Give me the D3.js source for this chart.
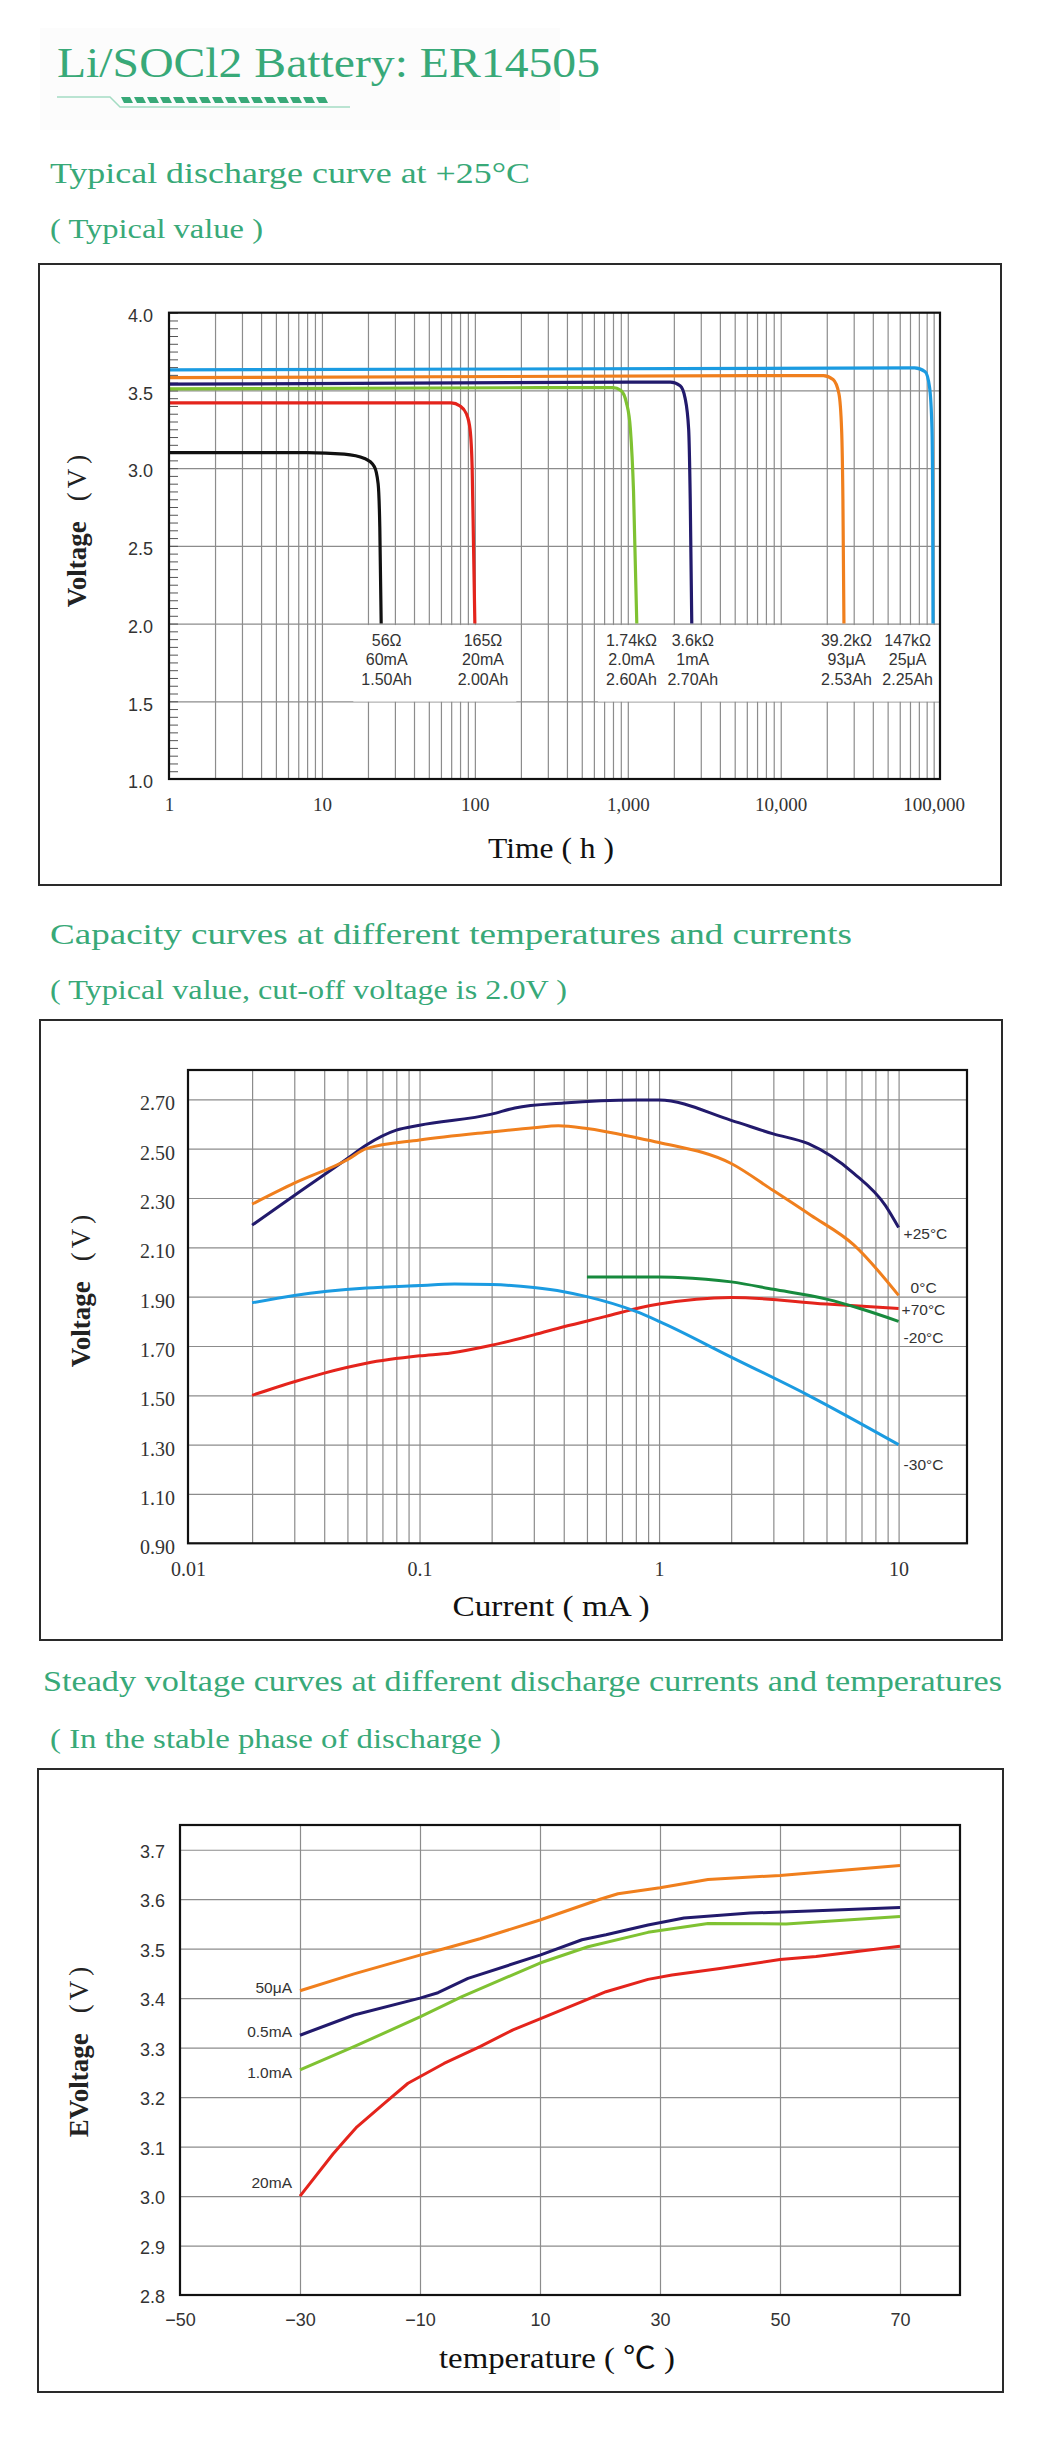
<!DOCTYPE html>
<html>
<head>
<meta charset="utf-8">
<script src="https://cdn.jsdelivr.net/npm/d3@7"></script>
<style>
  body { margin: 0; background: #fff; }
  svg { display: block; }
</style>
</head>
<body>
<svg id="page" width="1040" height="2441"></svg>
<script>
// ---- data ----
const pageTitle = 'Li/SOCl2 Battery: ER14505';
const sectionTitles = [
  'Typical discharge curve at +25°C',
  'Capacity curves at different temperatures and currents',
  'Steady voltage curves at different discharge currents and temperatures',
];
const sectionNotes = [
  '( Typical value )',
  '( Typical value, cut-off voltage is 2.0V )',
  '( In the stable phase of discharge )',
];

// chart 1 : discharge at +25°C, [hours, volts]
const loadNames = ['56Ω', '165Ω', '1.74kΩ', '3.6kΩ', '39.2kΩ', '147kΩ'];
const loadCurrents = ['60mA', '20mA', '2.0mA', '1mA', '93μA', '25μA'];
const loadCapacity = ['1.50Ah', '2.00Ah', '2.60Ah', '2.70Ah', '2.53Ah', '2.25Ah'];
const loadLabelAt = [26.5, 113, 1057, 2660, 26900, 67600];
const loadGroup = [0, 0, 1, 1, 1, 1];
const dischargeCurves = [
  [[1, 3.10], [8, 3.10], [14, 3.09], [19, 3.062], [22, 3.01], [23.3, 2.9], [23.9, 2.62], [24.4, 2.0]],
  [[1, 3.42], [70, 3.42], [80, 3.40], [88, 3.35], [93, 3.25], [96, 3.0], [98, 2.5], [100, 2.0]],
  [[1, 3.51], [800, 3.518], [900, 3.50], [980, 3.42], [1040, 3.25], [1090, 2.85], [1145, 2.0]],
  [[1, 3.54], [1900, 3.553], [2200, 3.53], [2370, 3.45], [2500, 3.25], [2560, 2.8], [2620, 2.0]],
  [[1, 3.582], [19000, 3.595], [22000, 3.57], [24000, 3.48], [25000, 3.25], [25500, 2.8], [25900, 2.0]],
  [[1, 3.632], [75000, 3.645], [88000, 3.62], [94000, 3.52], [97500, 3.25], [98500, 2.8], [99000, 2.0]],
];
const timeTicks = [1, 10, 100, 1000, 10000, 100000];
const timeTickLabels = ['1', '10', '100', '1,000', '10,000', '100,000'];
const volt1Ticks = [1.0, 1.5, 2.0, 2.5, 3.0, 3.5, 4.0];

// chart 2 : voltage vs current, [mA, volts]
const tempNames = ['+25°C', '0°C', '+70°C', '-20°C', '-30°C'];
const capacityCurves = [
  [[0.02, 2.19], [0.03, 2.31], [0.05, 2.46], [0.06, 2.515], [0.08, 2.575], [0.1, 2.595], [0.2, 2.64],
   [0.25, 2.665], [0.4, 2.685], [0.8, 2.697], [1, 2.697], [2, 2.615], [3, 2.56], [4.2, 2.52],
   [6.5, 2.40], [8.8, 2.27], [10, 2.18]],
  [[0.02, 2.275], [0.03, 2.36], [0.05, 2.455], [0.06, 2.50], [0.1, 2.535], [0.2, 2.568], [0.3, 2.585],
   [0.38, 2.593], [0.5, 2.582], [0.8, 2.545], [1, 2.525], [2, 2.44], [3, 2.33], [4.3, 2.23],
   [6.5, 2.11], [10, 1.905]],
  [[0.02, 1.50], [0.03, 1.555], [0.04, 1.59], [0.06, 1.63], [0.1, 1.66], [0.135, 1.672], [0.2, 1.703],
   [0.3, 1.745], [0.4, 1.778], [0.6, 1.82], [0.85, 1.857], [1, 1.87], [2, 1.897], [5, 1.87], [10, 1.852]],
  [[0.5, 1.98], [1, 1.98], [1.2, 1.978], [2, 1.96], [3, 1.93], [5, 1.89], [7, 1.85], [10, 1.80]],
  [[0.02, 1.875], [0.03, 1.905], [0.06, 1.935], [0.1, 1.945], [0.14, 1.951], [0.2, 1.949], [0.3, 1.937],
   [0.4, 1.92], [0.5, 1.90], [0.8, 1.84], [1, 1.80], [2, 1.655], [4.2, 1.50], [10, 1.30]],
];
const currentTicks = [0.01, 0.1, 1, 10];
const currentTickLabels = ['0.01', '0.1', '1', '10'];
const volt2Ticks = [0.9, 1.1, 1.3, 1.5, 1.7, 1.9, 2.1, 2.3, 2.5, 2.7];

// chart 3 : steady voltage vs temperature, [°C, volts]
const currentNames = ['50μA', '0.5mA', '1.0mA', '20mA'];
const steadyCurves = [
  [[-30, 3.415], [-21, 3.449], [-10, 3.487], [-6, 3.50], [0, 3.52], [10, 3.558], [20, 3.60], [23, 3.611],
   [30, 3.623], [38, 3.64], [50, 3.648], [70, 3.668]],
  [[-30, 3.325], [-21, 3.366], [-10, 3.40], [-7, 3.411], [-2, 3.44], [10, 3.487], [17, 3.518], [21, 3.528],
   [28, 3.548], [34, 3.562], [45, 3.572], [55, 3.576], [70, 3.583]],
  [[-30, 3.255], [-21, 3.302], [-10, 3.362], [-3, 3.403], [10, 3.471], [18, 3.504], [28, 3.533],
   [38, 3.551], [51, 3.55], [70, 3.565]],
  [[-30, 3.0], [-24.5, 3.085], [-22.5, 3.113], [-20.5, 3.14], [-16, 3.187], [-12, 3.228], [-6, 3.268],
   [0, 3.302], [5.5, 3.336], [10, 3.358], [17, 3.393], [21, 3.413], [28, 3.438], [32, 3.447], [40, 3.46],
   [50, 3.478], [56, 3.484], [70, 3.505]],
];
const tempTicks = [-50, -30, -10, 10, 30, 50, 70];
const volt3Ticks = [2.8, 2.9, 3.0, 3.1, 3.2, 3.3, 3.4, 3.5, 3.6, 3.7];

// ---- styles ----
const GREEN = '#38a978';
const SERIF = '"Liberation Serif", "Noto Sans CJK SC", serif';
const SANS = '"Liberation Sans", Arial, sans-serif';
const GRID = '#8c8c8c';
const INK = '#333';
const C = { black: '#111', red: '#e4241c', lime: '#7fc232', navy: '#221a6c', orange: '#f07f1d',
            blue: '#1b9be1', dkgreen: '#178a3d' };
const loadColors = [C.black, C.red, C.lime, C.navy, C.orange, C.blue];
const tempColors = [C.navy, C.orange, C.red, C.dkgreen, C.blue];
const currentColors = [C.orange, C.navy, C.lime, C.red];

const svg = d3.select('#page');

// ---- header ----
svg.append('rect').attr('x', 40).attr('y', 28).attr('width', 520).attr('height', 102).attr('fill', '#fcfcfc');

function greenText(txt, x, y, size, len) {
  svg.append('text')
    .attr('x', x).attr('y', y)
    .attr('font-family', SERIF).attr('font-size', size)
    .attr('fill', GREEN)
    .attr('textLength', len).attr('lengthAdjust', 'spacingAndGlyphs')
    .text(txt);
}

greenText(pageTitle, 57, 77, 42, 543);
svg.append('path').attr('d', 'M57,97H110L120,107H350')
  .attr('fill', 'none').attr('stroke', '#a4dcc3').attr('stroke-width', 1.5);
svg.append('g').selectAll('path')
  .data(d3.range(16))
  .join('path')
  .attr('d', i => { const x = 121 + i * 13; return `M${x},97h9l3,6h-9z`; })
  .attr('fill', GREEN);

greenText(sectionTitles[0], 50, 183, 30, 480);
greenText(sectionNotes[0], 50, 238, 28, 213);
greenText(sectionTitles[1], 50, 944, 30, 802);
greenText(sectionNotes[1], 50, 999, 28, 517);
greenText(sectionTitles[2], 43, 1691, 30, 959);
greenText(sectionNotes[2], 50, 1748, 28, 451);

function box(x, y, w, h) {
  svg.append('rect').attr('x', x).attr('y', y).attr('width', w).attr('height', h)
    .attr('fill', 'none').attr('stroke', '#2a2a2a').attr('stroke-width', 2);
}

function styleGrid(g) {
  g.select('.domain').remove();
  g.selectAll('line').attr('stroke', GRID).attr('stroke-width', 1.2);
}

// rotated "Voltage (V)" title, optional stray prefix glyph
function yTitle(prefix, x, y) {
  const t = svg.append('text')
    .attr('transform', `translate(${x},${y}) rotate(-90)`)
    .attr('text-anchor', 'middle')
    .attr('font-family', SERIF).attr('font-size', 27)
    .attr('fill', '#222');
  if (prefix) t.append('tspan').attr('font-weight', 'bold').attr('dx', 0).text(prefix);
  t.append('tspan').attr('font-weight', 'bold').text('Voltage');
  t.append('tspan').attr('dx', 20).text('(');
  t.append('tspan').attr('dx', 4).text('V');
  t.append('tspan').attr('dx', 5).text(')');
}

function xTitle(txt, x, y, len) {
  svg.append('text')
    .attr('x', x).attr('y', y)
    .attr('text-anchor', 'middle')
    .attr('font-family', SERIF).attr('font-size', 30)
    .attr('fill', '#111')
    .attr('textLength', len).attr('lengthAdjust', 'spacingAndGlyphs')
    .text(txt);
}

function frame(p) {
  svg.append('rect').attr('x', p.left).attr('y', p.top)
    .attr('width', p.right - p.left).attr('height', p.bottom - p.top)
    .attr('fill', 'none').attr('stroke', '#111').attr('stroke-width', 2.2);
}

// ---- chart 1 ----
box(39, 264, 962, 621);
const p1 = { left: 169, right: 940, top: 312.7, bottom: 779 };
const x1 = d3.scaleLog().domain([1, 110000]).range([p1.left, p1.right]);
const y1 = d3.scaleLinear().domain([1, 4]).range([p1.bottom, p1.top]);
const g1 = svg.append('g');

g1.append('g').attr('transform', `translate(0,${p1.bottom})`)
  .call(d3.axisBottom(x1).tickValues(x1.ticks().filter(t => t > 1))
    .tickSize(-(p1.bottom - p1.top)).tickFormat(''))
  .call(styleGrid);
g1.append('g').attr('transform', `translate(${p1.left},0)`)
  .call(d3.axisLeft(y1).tickValues(volt1Ticks.slice(1, -1))
    .tickSize(-(p1.right - p1.left)).tickFormat(''))
  .call(styleGrid);

// white label plates + labels
const plates = g1.append('g');
const lbl1 = g1.append('g')
  .attr('font-family', SANS).attr('font-size', 16).attr('fill', INK).attr('text-anchor', 'middle');
loadNames.forEach((name, i) => {
  const t = lbl1.append('text').attr('class', `grp${loadGroup[i]}`)
    .attr('x', x1(loadLabelAt[i])).attr('y', y1(2.0) + 22);
  [name, loadCurrents[i], loadCapacity[i]].forEach((s, k) => {
    t.append('tspan').attr('x', x1(loadLabelAt[i])).attr('dy', k === 0 ? 0 : 19.5).text(s);
  });
});
d3.groups(loadGroup.map((grp, i) => ({ grp, i })), d => d.grp).forEach(([grp]) => {
  const boxes = lbl1.selectAll(`.grp${grp}`).nodes().map(n => n.getBBox());
  const x0 = d3.min(boxes, b => b.x) - 8;
  const xMax = Math.min(d3.max(boxes, b => b.x + b.width) + 8, p1.right - 1);
  const yMax = d3.max(boxes, b => b.y + b.height) + 14;
  plates.append('rect')
    .attr('x', x0).attr('y', y1(2.0) + 1.5)
    .attr('width', xMax - x0).attr('height', yMax - y1(2.0) - 1.5)
    .attr('fill', '#fff');
});

g1.append('g').attr('transform', `translate(${p1.left},0)`)
  .call(d3.axisLeft(y1).tickValues(d3.range(20, 81).map(i => i * 0.05)).tickSizeInner(-9).tickSizeOuter(0).tickFormat(''))
  .call(g => g.select('.domain').remove())
  .call(g => g.selectAll('line').attr('stroke', '#555').attr('stroke-width', 1));

const line1 = d3.line().x(d => x1(d[0])).y(d => y1(d[1])).curve(d3.curveMonotoneX);
g1.append('g').selectAll('path')
  .data(dischargeCurves)
  .join('path')
  .attr('d', line1)
  .attr('fill', 'none')
  .attr('stroke', (d, i) => loadColors[i])
  .attr('stroke-width', 3.2);

frame(p1);

g1.append('g').attr('transform', `translate(${p1.left},0)`)
  .call(d3.axisLeft(y1).tickValues(volt1Ticks).tickSize(0).tickPadding(16).tickFormat(d3.format('.1f')))
  .call(g => g.select('.domain').remove())
  .call(g => g.selectAll('text').attr('font-family', SANS).attr('font-size', 18).attr('fill', INK)
    .attr('transform', 'translate(0,3)'));
g1.append('g').attr('transform', `translate(0,${p1.bottom})`)
  .call(d3.axisBottom(x1).tickValues(timeTicks).tickSize(0).tickPadding(19)
    .tickFormat((d, i) => timeTickLabels[i]))
  .call(g => g.select('.domain').remove())
  .call(g => g.selectAll('text').attr('font-family', SERIF).attr('font-size', 19).attr('fill', INK));

yTitle('', 86, 531);
xTitle('Time ( h )', 551, 858, 126);

// ---- chart 2 ----
box(40, 1020, 962, 620);
const p2 = { left: 188, right: 967, top: 1070, bottom: 1543.3 };
const x2 = d3.scaleLog().domain([0.0108, 19.3]).range([p2.left, p2.right]);
const y2 = d3.scaleLinear().domain([0.9, 2.819]).range([p2.bottom, p2.top]);
const g2 = svg.append('g');

g2.append('g').attr('transform', `translate(0,${p2.bottom})`)
  .call(d3.axisBottom(x2).tickValues(x2.ticks().filter(t => t > 0.011 && t <= 10.01))
    .tickSize(-(p2.bottom - p2.top)).tickFormat(''))
  .call(styleGrid);
g2.append('g').attr('transform', `translate(${p2.left},0)`)
  .call(d3.axisLeft(y2).tickValues(volt2Ticks.slice(1))
    .tickSize(-(p2.right - p2.left)).tickFormat(''))
  .call(styleGrid);

const line2 = d3.line().x(d => x2(d[0])).y(d => y2(d[1])).curve(d3.curveMonotoneX);
g2.append('g').selectAll('path')
  .data(capacityCurves)
  .join('path')
  .attr('d', line2)
  .attr('fill', 'none')
  .attr('stroke', (d, i) => tempColors[i])
  .attr('stroke-width', 3);

// end-of-curve labels (small nudges so they do not collide)
const tempNudge = [[5, 6], [12, -8], [3, 1], [5, 16], [5, 20]];
g2.append('g').selectAll('text')
  .data(capacityCurves)
  .join('text')
  .attr('x', (d, i) => x2(d[d.length - 1][0]) + tempNudge[i][0])
  .attr('y', (d, i) => y2(d[d.length - 1][1]) + tempNudge[i][1] + 5.5)
  .attr('font-family', SANS).attr('font-size', 15.5).attr('fill', INK)
  .text((d, i) => tempNames[i]);

frame(p2);

g2.append('g').attr('transform', `translate(${p2.left},0)`)
  .call(d3.axisLeft(y2).tickValues(volt2Ticks).tickSize(0).tickPadding(13).tickFormat(d3.format('.2f')))
  .call(g => g.select('.domain').remove())
  .call(g => g.selectAll('text').attr('font-family', SERIF).attr('font-size', 20).attr('fill', INK)
    .attr('transform', 'translate(0,4)'));
g2.append('g').attr('transform', `translate(0,${p2.bottom})`)
  .call(d3.axisBottom(x2.copy().clamp(true)).tickValues(currentTicks).tickSize(0).tickPadding(19)
    .tickFormat((d, i) => currentTickLabels[i]))
  .call(g => g.select('.domain').remove())
  .call(g => g.selectAll('text').attr('font-family', SERIF).attr('font-size', 20).attr('fill', INK));

yTitle('', 90, 1291);
xTitle('Current ( mA )', 551, 1616, 197);

// ---- chart 3 ----
box(38, 1769, 965, 623);
const p3 = { left: 180, right: 960, top: 1825, bottom: 2295 };
const x3 = d3.scaleLinear().domain([-50, 80]).range([p3.left, p3.right]);
const y3 = d3.scaleLinear().domain([2.8, 3.75]).range([p3.bottom, p3.top]);
const g3 = svg.append('g');

g3.append('g').attr('transform', `translate(0,${p3.bottom})`)
  .call(d3.axisBottom(x3).tickValues(tempTicks.slice(1))
    .tickSize(-(p3.bottom - p3.top)).tickFormat(''))
  .call(styleGrid);
g3.append('g').attr('transform', `translate(${p3.left},0)`)
  .call(d3.axisLeft(y3).tickValues(volt3Ticks.slice(1))
    .tickSize(-(p3.right - p3.left)).tickFormat(''))
  .call(styleGrid);

const line3 = d3.line().x(d => x3(d[0])).y(d => y3(d[1]));
g3.append('g').selectAll('path')
  .data(steadyCurves)
  .join('path')
  .attr('d', line3)
  .attr('fill', 'none')
  .attr('stroke', (d, i) => currentColors[i])
  .attr('stroke-width', 3)
  .attr('stroke-linejoin', 'round');

const currentNudge = [-3, -4, 3, -14];
g3.append('g').selectAll('text')
  .data(steadyCurves)
  .join('text')
  .attr('x', d => x3(d[0][0]) - 8)
  .attr('y', (d, i) => y3(d[0][1]) + currentNudge[i] + 5.5)
  .attr('text-anchor', 'end')
  .attr('font-family', SANS).attr('font-size', 15.5).attr('fill', INK)
  .text((d, i) => currentNames[i]);

frame(p3);

g3.append('g').attr('transform', `translate(${p3.left},0)`)
  .call(d3.axisLeft(y3).tickValues(volt3Ticks).tickSize(0).tickPadding(15).tickFormat(d3.format('.1f')))
  .call(g => g.select('.domain').remove())
  .call(g => g.selectAll('text').attr('font-family', SANS).attr('font-size', 18).attr('fill', INK)
    .attr('transform', 'translate(0,2)'));
g3.append('g').attr('transform', `translate(0,${p3.bottom})`)
  .call(d3.axisBottom(x3).tickValues(tempTicks).tickSize(0).tickPadding(18))
  .call(g => g.select('.domain').remove())
  .call(g => g.selectAll('text').attr('font-family', SANS).attr('font-size', 18).attr('fill', INK));

yTitle('E', 88, 2052);
xTitle('temperature ( ℃ )', 557, 2368, 236);
</script>
</body>
</html>
